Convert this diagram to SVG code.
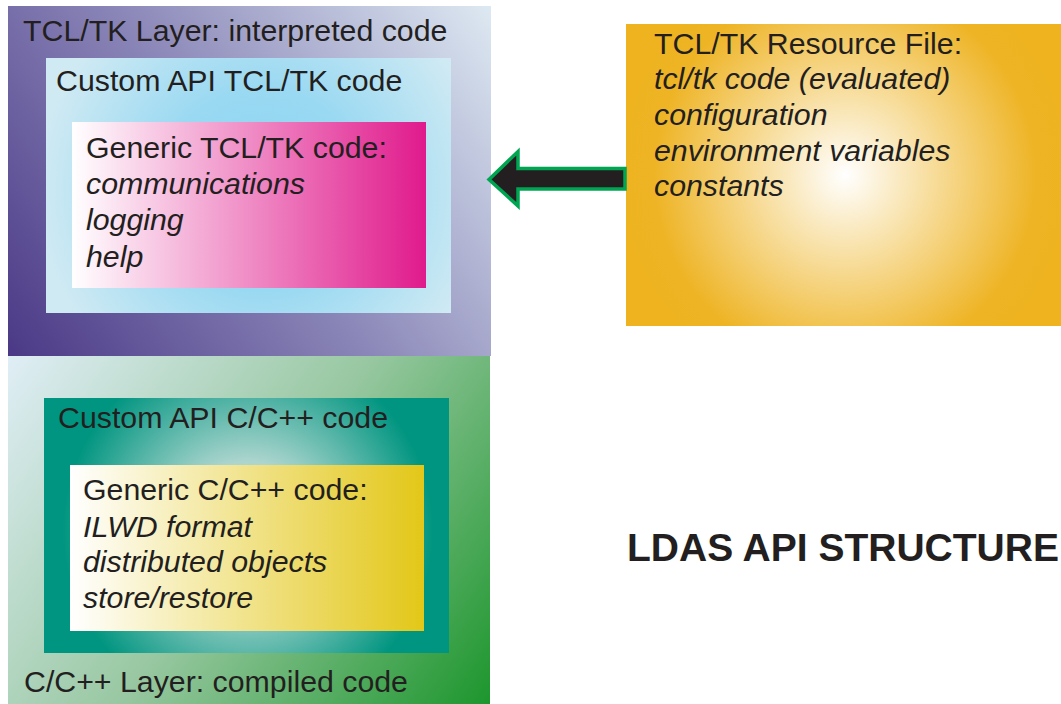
<svg xmlns="http://www.w3.org/2000/svg" width="1061" height="704" viewBox="0 0 1061 704">
  <defs>
    <linearGradient id="gTclLayer" gradientUnits="userSpaceOnUse" x1="8" y1="356" x2="491" y2="6">
      <stop offset="0" stop-color="#4a3886"/>
      <stop offset="0.5" stop-color="#8c88b9"/>
      <stop offset="1" stop-color="#dde9f2"/>
    </linearGradient>
    <linearGradient id="gCLayer" gradientUnits="userSpaceOnUse" x1="8" y1="356" x2="490" y2="704">
      <stop offset="0" stop-color="#e0eef6"/>
      <stop offset="0.5" stop-color="#97c7a0"/>
      <stop offset="1" stop-color="#1d962d"/>
    </linearGradient>
    <radialGradient id="gCustomTcl" gradientUnits="userSpaceOnUse" cx="262" cy="190" r="225">
      <stop offset="0" stop-color="#8bd3f0"/>
      <stop offset="0.45" stop-color="#9ad9f2"/>
      <stop offset="1" stop-color="#d0eaf3"/>
    </radialGradient>
    <radialGradient id="gCustomC" gradientUnits="userSpaceOnUse" cx="248" cy="530" r="195">
      <stop offset="0" stop-color="#d6eae6"/>
      <stop offset="0.35" stop-color="#acd5ce"/>
      <stop offset="0.95" stop-color="#009580"/>
    </radialGradient>
    <linearGradient id="gGenericTcl" x1="0" y1="0" x2="1" y2="0">
      <stop offset="0" stop-color="#ffffff"/>
      <stop offset="1" stop-color="#e01a8c"/>
    </linearGradient>
    <linearGradient id="gGenericC" x1="0" y1="0" x2="1" y2="0">
      <stop offset="0" stop-color="#ffffff"/>
      <stop offset="1" stop-color="#e3c718"/>
    </linearGradient>
    <radialGradient id="gResource" gradientUnits="userSpaceOnUse" cx="845" cy="175" r="225">
      <stop offset="0" stop-color="#ffffff"/>
      <stop offset="0.85" stop-color="#eeb425"/>
      <stop offset="1" stop-color="#eeb31f"/>
    </radialGradient>
  </defs>
  <style>
    text { font-family: "Liberation Sans", Arial, sans-serif; fill: #231f20; font-size: 30.3px; }
    .it { font-style: italic; }
    .title { font-weight: bold; font-size: 39px; }
  </style>

  <rect width="1061" height="704" fill="#ffffff"/>

  <g id="tcl-layer">
    <rect x="8" y="6" width="483" height="350" fill="url(#gTclLayer)"/>
    <text x="23" y="41">TCL/TK Layer: interpreted code</text>
  </g>

  <g id="custom-tcl">
    <rect x="46" y="58" width="405" height="255" fill="url(#gCustomTcl)"/>
    <text x="56" y="91">Custom API TCL/TK code</text>
  </g>

  <g id="generic-tcl">
    <rect x="72" y="122" width="354" height="166" fill="url(#gGenericTcl)"/>
    <text x="86" y="158">Generic TCL/TK code:</text>
    <text class="it" x="86" y="194">communications</text>
    <text class="it" x="86" y="230">logging</text>
    <text class="it" x="86" y="267">help</text>
  </g>

  <g id="c-layer">
    <rect x="8" y="356" width="482" height="348" fill="url(#gCLayer)"/>
    <text x="24" y="692">C/C++ Layer: compiled code</text>
  </g>

  <g id="custom-c">
    <rect x="44" y="398" width="405" height="255" fill="url(#gCustomC)"/>
    <text x="58" y="428">Custom API C/C++ code</text>
  </g>

  <g id="generic-c">
    <rect x="70" y="465" width="354" height="166" fill="url(#gGenericC)"/>
    <text x="83" y="500">Generic C/C++ code:</text>
    <text class="it" x="83" y="537">ILWD format</text>
    <text class="it" x="83" y="572">distributed objects</text>
    <text class="it" x="83" y="608">store/restore</text>
  </g>

  <g id="resource-file">
    <rect x="626" y="24" width="435" height="302" fill="url(#gResource)"/>
    <text x="654" y="54">TCL/TK Resource File:</text>
    <text class="it" x="654" y="89">tcl/tk code (evaluated)</text>
    <text class="it" x="654" y="125">configuration</text>
    <text class="it" x="654" y="161">environment variables</text>
    <text class="it" x="654" y="196">constants</text>
  </g>

  <g id="connectors">
    <polygon points="489,179.5 518,151.5 518,168.5 625,168.5 625,189 518,189 518,206" fill="#231f20" stroke="#00a551" stroke-width="3.5" stroke-linejoin="miter"/>
  </g>

  <g id="heading">
    <text class="title" x="627" y="561">LDAS API STRUCTURE</text>
  </g>
</svg>
